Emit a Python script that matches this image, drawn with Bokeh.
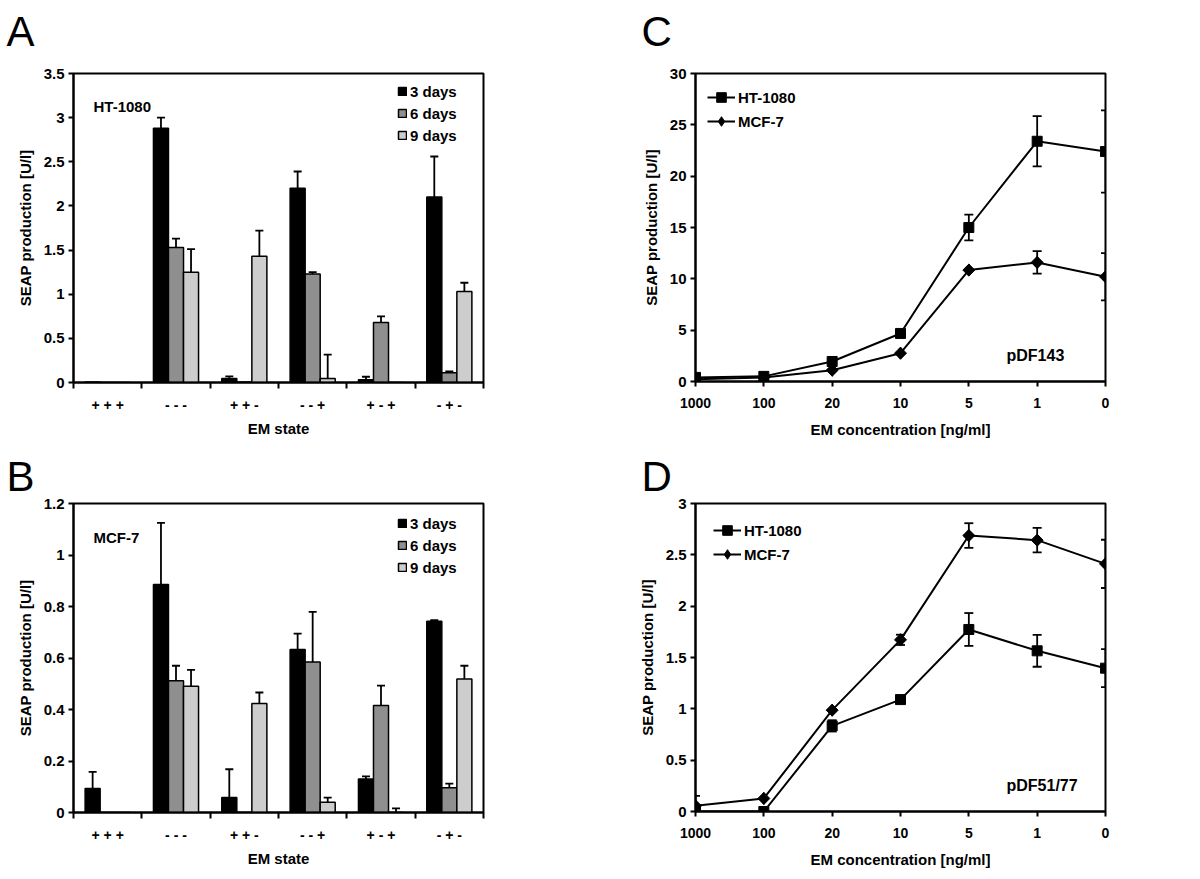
import numpy as np
from bokeh.plotting import figure
from bokeh.layouts import column, row
from bokeh.models import (Range1d, FixedTicker, CustomJSTickFormatter, Whisker, TeeHead,
                          ColumnDataSource, Label, Legend, LegendItem, Title, LinearAxis)
from bokeh.embed import file_html
from bokeh.resources import INLINE

# ---------------- data ----------------
states = ["+ + +", "- - -", "+ + -", "- - +", "+ - +", "- + -"]
days = ["3 days", "6 days", "9 days"]

# Panel A: HT-1080
a_3 = [0.005, 2.88, 0.045, 2.20, 0.03, 2.10]
a_3_err = [0.0, 0.12, 0.025, 0.19, 0.035, 0.46]
a_6 = [0.0, 1.53, 0.005, 1.23, 0.68, 0.11]
a_6_err = [0.0, 0.10, 0.0, 0.02, 0.07, 0.015]
a_9 = [0.0, 1.25, 1.43, 0.045, 0.0, 1.03]
a_9_err = [0.0, 0.26, 0.29, 0.27, 0.0, 0.10]

# Panel B: MCF-7
b_3 = [0.093, 0.885, 0.058, 0.633, 0.13, 0.743]
b_3_err = [0.065, 0.24, 0.11, 0.062, 0.01, 0.004]
b_6 = [0.0, 0.512, 0.0, 0.584, 0.416, 0.096]
b_6_err = [0.0, 0.058, 0.0, 0.195, 0.077, 0.016]
b_9 = [0.0, 0.49, 0.423, 0.04, 0.0, 0.518]
b_9_err = [0.0, 0.064, 0.043, 0.018, 0.016, 0.052]

# Panels C/D
conc = ["1000", "100", "20", "10", "5", "1", "0"]
c_ht = [0.4, 0.5, 1.95, 4.68, 15.0, 23.4, 22.4]
c_ht_err = [0.0, 0.0, 0.0, 0.0, 1.25, 2.45, 4.0]
c_mcf = [0.23, 0.4, 1.1, 2.76, 10.85, 11.6, 10.2]
c_mcf_err = [0.0, 0.0, 0.0, 0.0, 0.0, 1.1, 2.3]
d_ht = [0.0, 0.0, 0.834, 1.09, 1.773, 1.565, 1.396]
d_ht_err = [0.0, 0.0, 0.055, 0.0, 0.16, 0.155, 0.185]
d_mcf = [0.055, 0.127, 0.987, 1.672, 2.688, 2.643, 2.412]
d_mcf_err = [0.098, 0.0, 0.0, 0.05, 0.12, 0.12, 0.235]

FONT = "Liberation Sans"
BAR_COLORS = ["#000000", "#8f8f8f", "#cdcdcd"]

fmt = CustomJSTickFormatter(code="return String(Math.round(tick*1000)/1000)")


def make_fig(let, fw, fh, bl, br, bt, bb, ymax, nx, letter_offset, letter_standoff, gap):
    p = figure(frame_width=fw, frame_height=fh, x_range=Range1d(0, nx),
               y_range=Range1d(0, ymax), output_backend="svg", toolbar_location=None,
               min_border_left=bl, min_border_right=br, min_border_top=bt, min_border_bottom=bb)
    if gap > 0:
        # empty spacer axis between the frame and the panel letter
        sp = LinearAxis(ticker=FixedTicker(ticks=[0]), axis_line_color=None,
                        major_tick_line_color=None, minor_tick_line_color=None,
                        major_tick_out=gap, major_tick_in=0, minor_tick_out=0, minor_tick_in=0,
                        major_label_standoff=0, major_label_text_font_size="1px",
                        major_label_text_color=None, major_label_overrides={0: ""})
        p.add_layout(sp, "above")
    p.add_layout(Title(text=let, align="left", offset=letter_offset, text_font=FONT,
                       text_font_size="42px", text_font_style="normal", text_color="black",
                       standoff=letter_standoff), "above")
    return p


def style_common(p, ymax, ystep, xlab):
    p.xgrid.visible = False
    p.ygrid.visible = False
    p.outline_line_color = "black"
    p.outline_line_width = 2
    p.background_fill_color = "white"
    p.border_fill_color = "white"
    for ax in (p.below[0], p.left[0]):
        ax.axis_line_width = 2
        ax.axis_line_color = "black"
        ax.major_tick_line_width = 2
        ax.minor_tick_line_width = 2
        ax.major_label_text_font = FONT
        ax.major_label_text_font_style = "bold"
        ax.major_label_text_color = "black"
        ax.axis_label_text_font = FONT
        ax.axis_label_text_font_style = "bold"
        ax.axis_label_text_font_size = "15px"
        ax.axis_label_text_color = "black"
    y = p.left[0]
    y.ticker = FixedTicker(ticks=list(np.round(np.arange(0, ymax + 1e-9, ystep), 6)))
    y.formatter = fmt
    y.major_tick_in = 0
    y.major_tick_out = 5
    y.minor_tick_out = 0
    y.minor_tick_in = 0
    y.major_label_standoff = 4
    y.major_label_text_font_size = "15px"
    y.axis_label = "SEAP production [U/l]"
    y.axis_label_standoff = 7
    x = p.below[0]
    x.axis_label = xlab
    x.major_label_text_font_size = "14px"


def style_legend(leg, gw, gh):
    leg.border_line_color = None
    leg.background_fill_alpha = 0
    leg.label_text_font = FONT
    leg.label_text_font_style = "bold"
    leg.label_text_font_size = "15px"
    leg.label_text_color = "black"
    leg.glyph_width = gw
    leg.glyph_height = gh
    leg.label_height = 22
    leg.spacing = 0
    leg.padding = 0
    leg.margin = 0
    leg.label_standoff = 3


def note(p, text, dx, dy, size="15px"):
    p.add_layout(Label(x=dx, y=dy, x_units="screen", y_units="screen", text=text,
                       text_font=FONT, text_font_size=size, text_font_style="bold",
                       text_color="black", text_baseline="alphabetic"))


def whisker(p, xs, vals, errs, head=8):
    keep = [i for i, e in enumerate(errs) if e > 0]
    src = ColumnDataSource(dict(
        base=[xs[i] for i in keep],
        upper=[vals[i] + errs[i] for i in keep],
        lower=[vals[i] - errs[i] for i in keep]))
    w = Whisker(base="base", upper="upper", lower="lower", source=src, dimension="height",
                line_color="black", line_width=1.8,
                upper_head=TeeHead(size=head, line_width=1.8, line_color="black"),
                lower_head=TeeHead(size=head, line_width=1.8, line_color="black"))
    p.add_layout(w)


def bar_panel(name, let, series, errors, ymax, ystep, bt, bb, lstand, gap, name_pos, legend_pos):
    p = make_fig(let, 410, 309, 73, 117, bt, bb, ymax, len(states), -67, lstand, gap)
    style_common(p, ymax, ystep, "EM state")
    centers = np.arange(len(states)) + 0.5
    bw = 0.22
    offsets = [-bw, 0.0, bw]
    items = []
    for vals, errs, off, col, lab in zip(series, errors, offsets, BAR_COLORS, days):
        xs = list(centers + off)
        src = ColumnDataSource(dict(x=xs, top=vals))
        r = p.vbar(x="x", top="top", bottom=0, width=bw, source=src, fill_color=col,
                   line_color="black", line_width=1.5)
        items.append(LegendItem(label=lab, renderers=[r]))
        whisker(p, xs, vals, errs)
    x = p.below[0]
    x.ticker = FixedTicker(ticks=list(centers), minor_ticks=list(range(len(states) + 1)))
    x.major_label_overrides = {float(c): s for c, s in zip(centers, states)}
    x.major_tick_out = 0
    x.major_tick_in = 0
    x.minor_tick_out = 6
    x.minor_tick_in = 0
    x.major_label_standoff = 8
    x.axis_label_standoff = 4
    leg = Legend(items=items, location=legend_pos)
    style_legend(leg, 10, 10)
    p.add_layout(leg)
    note(p, name, *name_pos)
    return p


def line_panel(let, ht, ht_err, mcf, mcf_err, ymax, ystep, tag, bt, bb, lstand, gap,
               tag_pos, legend_pos):
    p = make_fig(let, 410, 308, 95, 95, bt, bb, ymax, len(conc) - 1, -54, lstand, gap)
    style_common(p, ymax, ystep, "EM concentration [ng/ml]")
    xs = list(range(len(conc)))
    whisker(p, xs, ht, ht_err, head=9)
    whisker(p, xs, mcf, mcf_err, head=9)
    l1 = p.line(xs, ht, line_color="black", line_width=2)
    s1 = p.scatter(xs, ht, marker="square", size=10, fill_color="black", line_color="black")
    l2 = p.line(xs, mcf, line_color="black", line_width=2)
    # diamond marker (sits fully under the rotated square below; gives the legend its glyph)
    s2 = p.scatter(xs, mcf, marker="diamond", size=12, fill_color="black", line_color="black")
    p.scatter(xs, mcf, marker="square", angle=np.pi / 4, size=8.5,
              fill_color="black", line_color="black")
    x = p.below[0]
    x.ticker = FixedTicker(ticks=xs)
    x.major_label_overrides = {i: c for i, c in zip(xs, conc)}
    x.major_tick_out = 5
    x.major_tick_in = 0
    x.minor_tick_out = 0
    x.minor_tick_in = 0
    x.major_label_standoff = 11
    x.axis_label_standoff = 10
    leg = Legend(items=[LegendItem(label="HT-1080", renderers=[l1, s1]),
                        LegendItem(label="MCF-7", renderers=[l2, s2])], location=legend_pos)
    style_legend(leg, 28, 24)
    p.add_layout(leg)
    note(p, tag, *tag_pos, size="16px")
    return p


pA = bar_panel("HT-1080", "A", [a_3, a_6, a_9], [a_3_err, a_6_err, a_9_err], 3.5, 0.5,
               73, 58, 0, 19, (20, 276), (324, 236))
pC = line_panel("C", c_ht, c_ht_err, c_mcf, c_mcf_err, 30, 5, "pDF143",
                73, 59, 0, 19, (311, 26), (12, 248))
pB = bar_panel("MCF-7", "B", [b_3, b_6, b_9], [b_3_err, b_6_err, b_9_err], 1.2, 0.2,
               62, 68, 7, 0, (20, 275), (324, 234))
pD = line_panel("D", d_ht, d_ht_err, d_mcf, d_mcf_err, 3, 0.5, "pDF51/77",
                63, 68, 7, 0, (311, 26), (18, 245))

layout = column(row(pA, pC), row(pB, pD))
open("out.html", "w").write(file_html(layout, INLINE))
